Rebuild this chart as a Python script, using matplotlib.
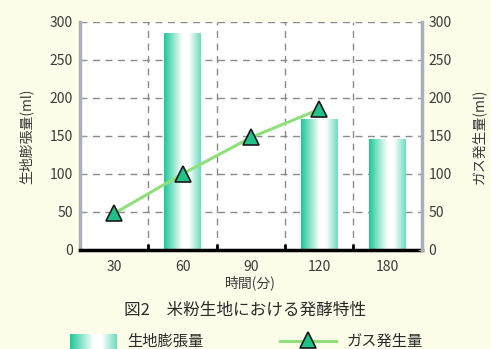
import numpy as np
import matplotlib
matplotlib.use('Agg')
import matplotlib.pyplot as plt
from matplotlib.colors import LinearSegmentedColormap
from matplotlib.lines import Line2D

plt.rcParams['font.family'] = ['Noto Sans CJK JP', 'DejaVu Sans']

# ===== DATA =====
times = ['30', '60', '90', '120', '180']
dough_expansion = [np.nan, 285, np.nan, 172, 145]   # 生地膨張量 (ml)
gas_times = ['30', '60', '90', '120']
gas_volume = [48, 100, 148, 185]                    # ガス発生量 (ml)
yticks = [0, 50, 100, 150, 200, 250, 300]

BG = '#fdfde9'
TXT = '#3a3a3a'
grad_cmap = LinearSegmentedColormap.from_list(
    'bar', [(0.0, '#1ec99a'), (0.5, '#ffffff'), (0.68, '#ffffff'), (1.0, '#6fdcbf')])
grad = np.linspace(0, 1, 64).reshape(1, -1)

fig = plt.figure(figsize=(4.91, 3.49), dpi=100, facecolor=BG)
ax = fig.add_axes([0.163, 0.284, 0.696, 0.653])
ax.set_facecolor('white')

x = np.arange(len(times))
bars = ax.bar(x, dough_expansion, width=0.53, color='none', edgecolor='none', zorder=2)
for b in bars:
    h = b.get_height()
    if not np.isfinite(h) or h <= 0:
        continue
    x0 = b.get_x()
    ax.imshow(grad, cmap=grad_cmap, aspect='auto', zorder=2,
              extent=[x0, x0 + b.get_width(), 0, h], interpolation='bilinear')

ax.set_xlim(-0.5, len(times) - 0.5)
ax.set_ylim(0, 300)
ax.set_xticks(x)
ax.set_xticklabels(times)
ax.set_xticks(x[:-1] + 0.5, minor=True)
ax.set_yticks(yticks)
ax.grid(True, axis='y', which='major', color='#8a8a8a', ls=(0, (5, 4)), lw=1.0, zorder=1)
ax.grid(True, axis='x', which='minor', color='#8a8a8a', ls=(0, (5, 4)), lw=1.0, zorder=1)
ax.tick_params(axis='x', which='major', length=0, labelsize=10, labelcolor=TXT, pad=7)
ax.tick_params(axis='x', which='minor', length=4, direction='in', width=2, color='black')
ax.tick_params(axis='y', length=3, direction='in', color='#9aa0a8', labelsize=10,
               labelcolor=TXT, pad=5)

ax2 = ax.twinx()
gx = [times.index(t) for t in gas_times]
ax2.plot(gx, gas_volume, color='#8fe07a', lw=2.2, zorder=3,
         marker='^', markersize=11, markerfacecolor='#22c08a',
         markeredgecolor='#1a1a1a', markeredgewidth=1.2)
ax2.set_ylim(0, 300)
ax2.set_yticks(yticks)
ax2.tick_params(axis='y', length=3, direction='in', color='#9aa0a8', labelsize=10,
                labelcolor=TXT, pad=5)

for a in (ax, ax2):
    for s in ('left', 'right', 'top', 'bottom'):
        a.spines[s].set_visible(False)
ax.spines['left'].set_visible(True)
ax.spines['left'].set_color('#a8b0b8')
ax.spines['left'].set_linewidth(2.5)
ax2.spines['right'].set_visible(True)
ax2.spines['right'].set_color('#a8b0b8')
ax2.spines['right'].set_linewidth(2.5)
ax.spines['bottom'].set_visible(True)
ax.spines['bottom'].set_color('black')
ax.spines['bottom'].set_linewidth(2.5)

ax.set_ylabel('生地膨張量(ml)', fontsize=10, color=TXT, labelpad=12)
ax2.set_ylabel('ガス発生量(ml)', fontsize=10, color=TXT, labelpad=14)
ax.set_xlabel('時間(分)', fontsize=10, color=TXT, labelpad=1)

fig.text(0.5, 0.112, '図2　米粉生地における発酵特性', ha='center', va='center',
         fontsize=12, color='#2a2a2a')

# legend at the bottom edge
ly = 0.022
lax = fig.add_axes([0.143, ly - 0.022, 0.095, 0.044])
lax.imshow(grad, cmap=grad_cmap, aspect='auto', interpolation='bilinear')
lax.axis('off')
fig.text(0.26, ly, '生地膨張量', fontsize=11, color='#2a2a2a', va='center')
fig.add_artist(Line2D([0.57, 0.685], [ly, ly], color='#8fe07a', lw=2.2))
fig.add_artist(Line2D([0.627], [ly + 0.004], marker='^', markersize=11,
                      markerfacecolor='#22c08a', markeredgecolor='#1a1a1a',
                      markeredgewidth=1.2))
fig.text(0.705, ly, 'ガス発生量', fontsize=11, color='#2a2a2a', va='center')

fig.savefig('out.png', dpi=100, facecolor=BG)
